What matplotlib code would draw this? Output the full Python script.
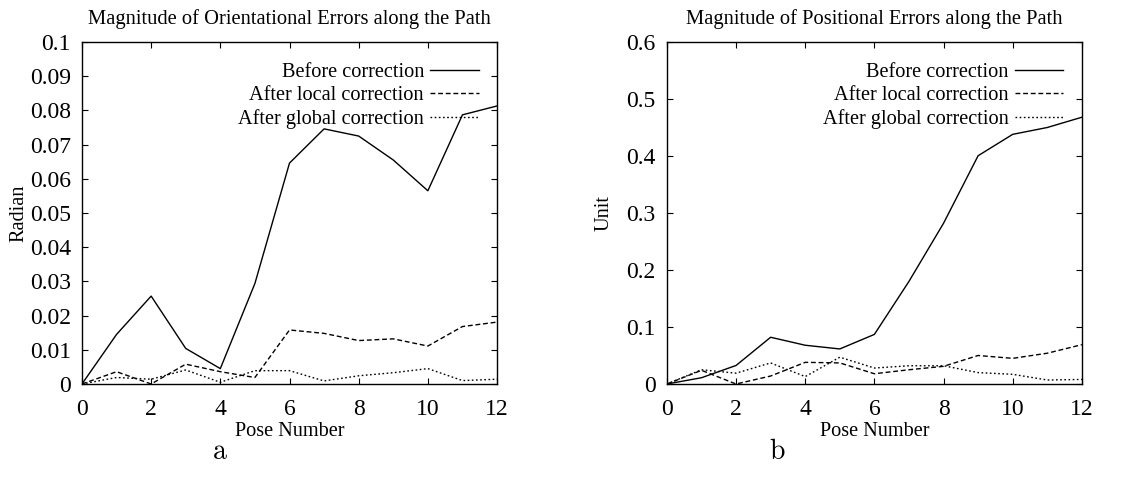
import matplotlib
matplotlib.use("Agg")
import matplotlib.pyplot as plt
from matplotlib.ticker import FuncFormatter, MultipleLocator

# pose index along the path
poses = list(range(13))

# orientational errors (radian)
orient_before = [0.0, 0.0145, 0.0257, 0.0104, 0.0045, 0.0294, 0.0646, 0.0746,
                 0.0725, 0.0655, 0.0565, 0.0787, 0.0813]
orient_local = [0.0, 0.0036, 0.0, 0.0058, 0.0036, 0.0019, 0.0158, 0.0148,
                0.0127, 0.0132, 0.0111, 0.0168, 0.0181]
orient_global = [0.0, 0.0019, 0.0014, 0.0041, 0.0005, 0.0039, 0.0039, 0.0009,
                 0.0024, 0.0033, 0.0045, 0.0010, 0.0014]

# positional errors (unit)
pos_before = [0.0, 0.011, 0.0325, 0.082, 0.068, 0.0615, 0.087, 0.180,
              0.282, 0.4005, 0.438, 0.450, 0.468]
pos_local = [0.0, 0.024, 0.0, 0.014, 0.038, 0.037, 0.018, 0.025,
             0.031, 0.050, 0.045, 0.054, 0.069]
pos_global = [0.0, 0.025, 0.019, 0.037, 0.013, 0.047, 0.028, 0.032,
              0.032, 0.020, 0.017, 0.007, 0.008]

labels = ["Before correction", "After local correction", "After global correction"]

plt.rcParams['font.family'] = ['Liberation Serif', 'DejaVu Serif']
plt.rcParams['font.size'] = 14.6

fig = plt.figure(figsize=(11.4, 4.8), dpi=100)
ax1 = fig.add_axes([0.0719, 0.2, 0.3641, 0.7125])
ax2 = fig.add_axes([0.585, 0.2, 0.364, 0.7125])


def draw_panel(ax, before, local, glob, ymax, ystep, title, ylabel):
    ax.plot(poses, before, color='black', lw=1.0, ls='-', label=labels[0])
    ax.plot(poses, local, color='black', lw=1.0, ls=(0, (3.5, 2)), label=labels[1])
    ax.plot(poses, glob, color='black', lw=1.0, ls=(0, (1.2, 1.8)), label=labels[2])

    ax.set_xlim(0, 12)
    ax.set_ylim(0, ymax)
    ax.xaxis.set_major_locator(MultipleLocator(2))
    ax.yaxis.set_major_locator(MultipleLocator(ystep))
    ax.yaxis.set_major_formatter(FuncFormatter(lambda v, p: f"{round(v, 4):g}"))
    ax.tick_params(direction='in', length=4.5, width=0.8, top=True, right=True,
                   labelsize=17)
    ax.tick_params(axis='x', pad=11)
    ax.tick_params(axis='y', pad=8)
    for sp in ax.spines.values():
        sp.set_linewidth(1.0)

    ax.set_title(title, fontsize=14.8, pad=13)
    ax.set_xlabel("Pose Number", fontsize=14.6, labelpad=1)
    ax.set_ylabel(ylabel, fontsize=14.6)
    ax.yaxis.set_label_coords(-0.128, 0.5)

    ax.legend(loc='upper right', bbox_to_anchor=(0.985, 0.975), frameon=False,
              markerfirst=False, handlelength=2.4, handletextpad=0.3,
              labelspacing=0.2, fontsize=14.6, borderaxespad=0.2)


draw_panel(ax1, orient_before, orient_local, orient_global, 0.1, 0.01,
           "Magnitude of Orientational Errors along the Path", "Radian")
draw_panel(ax2, pos_before, pos_local, pos_global, 0.6, 0.1,
           "Magnitude of Positional Errors along the Path", "Unit")

fig.text(220 / 1140, 1 - 452 / 480, "a", fontfamily='cmr10', fontsize=20,
         ha='center', va='center')
fig.text(777 / 1140, 1 - 452 / 480, "b", fontfamily='cmr10', fontsize=20,
         ha='center', va='center')

fig.savefig("out.png", dpi=100)
